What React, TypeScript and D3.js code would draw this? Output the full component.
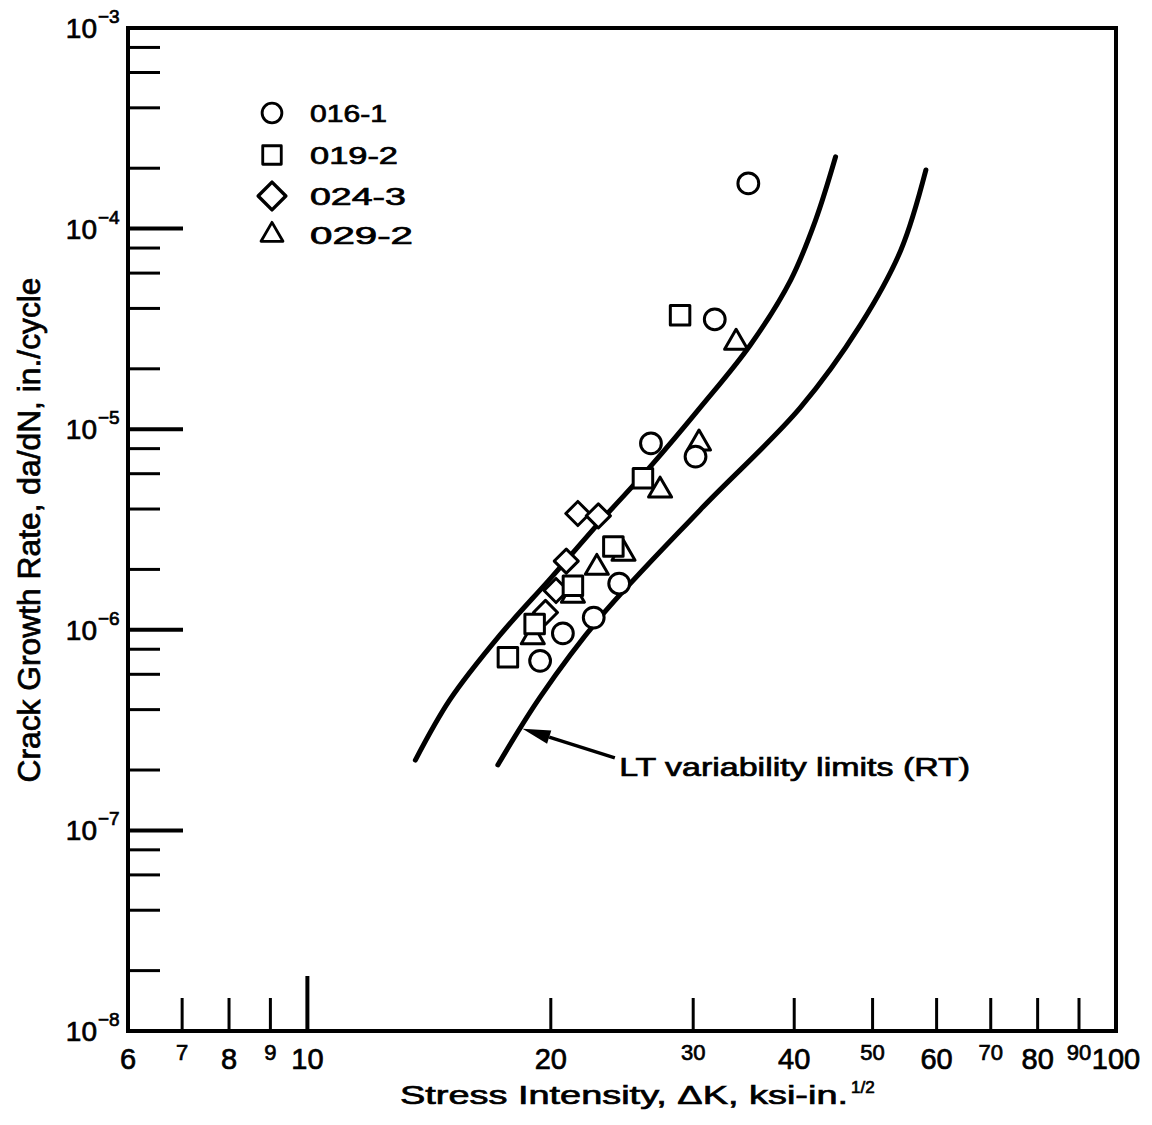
import React from 'react';
import * as d3 from 'd3';

const W = 1152;
const H = 1125;

// axes
const xDomain = [6, 100];
const yDomain = [1e-8, 1e-3];
const xMajorTicks = [10];
const xMinorTicks = [7, 8, 9, 20, 30, 40, 50, 60, 70, 80, 90];
const xBigLabels = [6, 8, 10, 20, 40, 60, 80, 100];
const xSmallLabels = [7, 9, 30, 50, 70, 90];
const yExponents = [-8, -7, -6, -5, -4, -3];
const yMinorMultipliers = [2, 4, 6, 8];

// specimens (delta K ksi-in^1/2, da/dN in/cycle)
const specimens = ['016-1', '019-2', '024-3', '029-2'];
const s016_1 = [[35.1, 1.68e-4], [31.9, 3.53e-5], [26.6, 8.5e-6], [30.2, 7.3e-6], [24.3, 1.7e-6], [22.6, 1.15e-6], [20.7, 9.6e-7], [19.4, 7.0e-7]];
const s019_2 = [[28.9, 3.7e-5], [26.0, 5.7e-6], [23.9, 2.6e-6], [21.3, 1.66e-6], [19.1, 1.07e-6], [17.7, 7.3e-7]];
const s024_3 = [[21.6, 3.8e-6], [22.9, 3.7e-6], [20.9, 2.2e-6], [20.3, 1.57e-6], [19.7, 1.22e-6]];
const s029_2 = [[33.9, 2.7e-5], [30.5, 8.5e-6], [27.3, 4.95e-6], [24.6, 2.4e-6], [22.8, 2.04e-6], [21.3, 1.48e-6], [19.0, 9.2e-7]];

// LT variability limits (RT)
const upperLimit = [[13.6, 2.24e-7], [15.0, 4.47e-7], [17.3, 9.4e-7], [20.0, 1.81e-6], [23.0, 3.45e-6], [26.6, 6.56e-6], [30.6, 1.28e-5], [35.3, 2.63e-5], [39.6, 5.54e-5], [42.5, 1.10e-4], [45.0, 2.28e-4]];
const lowerLimit = [[17.2, 2.12e-7], [19.4, 4.62e-7], [23.0, 1.15e-6], [30.6, 3.96e-6], [40.7, 1.28e-5], [48.3, 3.31e-5], [54.2, 7.82e-5], [58.2, 1.96e-4]];

// annotation (data coords)
const arrowTip = [18.45, 3.21e-7];
const arrowTail = [24.0, 2.3e-7];
const noteAt = [24.3, 1.86e-7];
const noteText = 'LT variability limits (RT)';

const font = '"Liberation Sans", Arial, sans-serif';

const x = d3.scaleLog().domain(xDomain).range([128, 1116]);
const y = d3.scaleLog().domain(yDomain).range([1031, 28]);

const line = d3.line<number[]>()
  .x(d => x(d[0]))
  .y(d => y(d[1]))
  .curve(d3.curveCatmullRom.alpha(0.5));

const circlePath = d3.symbol(d3.symbolCircle, 340)();
const squarePath = d3.symbol(d3.symbolSquare, 380)();
const diamondPath = d3.symbol(d3.symbolSquare, 290)();
const trianglePath = d3.symbol(d3.symbolTriangle, 230)();

const Marker = ({ kind, tx, ty, scale = 1 }) => {
  const common = { fill: '#fff', stroke: '#000', strokeWidth: 3, strokeLinejoin: 'round' as const };
  if (kind === 0) return <path d={circlePath} transform={`translate(${tx},${ty}) scale(${scale})`} {...common} />;
  if (kind === 1) return <path d={squarePath} transform={`translate(${tx},${ty}) scale(${scale})`} {...common} />;
  if (kind === 2) return <path d={diamondPath} transform={`translate(${tx},${ty}) rotate(45) scale(${scale})`} {...common} />;
  return <path d={trianglePath} transform={`translate(${tx},${ty}) scale(${scale})`} {...common} />;
};

const legendWidths = [77, 88, 96, 103];
const ink = { stroke: '#000', strokeWidth: 0.7 };

export default function App() {
  const yMinor: number[] = [];
  yExponents.slice(0, -1).forEach(e => yMinorMultipliers.forEach(m => yMinor.push(m * Math.pow(10, e))));

  const tip = [x(arrowTip[0]), y(arrowTip[1])];
  const tail = [x(arrowTail[0]), y(arrowTail[1])];
  const ang = Math.atan2(tail[1] - tip[1], tail[0] - tip[0]);
  const hl = 28, hw = 7;
  const bx = tip[0] + hl * Math.cos(ang), by = tip[1] + hl * Math.sin(ang);
  const head = [
    [tip[0], tip[1]],
    [bx + hw * Math.sin(ang), by - hw * Math.cos(ang)],
    [bx - hw * Math.sin(ang), by + hw * Math.cos(ang)],
  ];

  // draw order: triangles, diamonds, circles, squares
  const layers = [[3, s029_2], [2, s024_3], [0, s016_1], [1, s019_2]] as [number, number[][]][];

  return (
    <svg width={W} height={H} style={{ position: 'absolute', left: 0, top: 0, background: '#fff' }} fontFamily={font}>
      <rect width={W} height={H} fill="#fff" />

      {/* y ticks */}
      {yExponents.slice(0, -1).map(e => (
        <line key={'ym' + e} x1={128} x2={183} y1={y(Math.pow(10, e))} y2={y(Math.pow(10, e))} stroke="#000" strokeWidth={4} />
      ))}
      {yMinor.map((v, i) => (
        <line key={'yn' + i} x1={128} x2={160} y1={y(v)} y2={y(v)} stroke="#000" strokeWidth={3} />
      ))}
      {/* x ticks */}
      {xMajorTicks.map(v => (
        <line key={'xm' + v} x1={x(v)} x2={x(v)} y1={1031} y2={976} stroke="#000" strokeWidth={4} />
      ))}
      {xMinorTicks.map(v => (
        <line key={'xn' + v} x1={x(v)} x2={x(v)} y1={1031} y2={998} stroke="#000" strokeWidth={3} />
      ))}

      {/* frame */}
      <rect x={128} y={28} width={988} height={1003} fill="none" stroke="#000" strokeWidth={4} />

      {/* y labels */}
      {yExponents.map(e => (
        <g key={'yl' + e} {...ink}>
          <text x={97} y={y(Math.pow(10, e)) + 10} fontSize={28} textAnchor="end">10</text>
          <text x={98} y={y(Math.pow(10, e)) - 5} fontSize={19}>{'\u2212' + Math.abs(e)}</text>
        </g>
      ))}
      {/* x labels */}
      {xBigLabels.map(v => (
        <text key={'xb' + v} x={x(v)} y={1069} fontSize={29} textAnchor="middle" {...ink}>{v}</text>
      ))}
      {xSmallLabels.map(v => (
        <text key={'xs' + v} x={x(v)} y={1060} fontSize={22} textAnchor="middle" {...ink}>{v}</text>
      ))}

      {/* axis titles */}
      <text transform="translate(40,530) rotate(-90)" fontSize={31} textAnchor="middle" textLength={505} lengthAdjust="spacingAndGlyphs" {...ink}>
        Crack Growth Rate, da/dN, in./cycle
      </text>
      <text x={400} y={1104} fontSize={26} textLength={448} lengthAdjust="spacingAndGlyphs" {...ink}>
        Stress Intensity, ΔK, ksi-in.
      </text>
      <text x={851} y={1093} fontSize={17} {...ink}>1/2</text>

      {/* limit curves */}
      <path d={line(upperLimit) || ''} fill="none" stroke="#000" strokeWidth={5} strokeLinecap="round" />
      <path d={line(lowerLimit) || ''} fill="none" stroke="#000" strokeWidth={5} strokeLinecap="round" />

      {/* annotation */}
      <line x1={tail[0]} y1={tail[1]} x2={bx} y2={by} stroke="#000" strokeWidth={3.5} />
      <polygon points={head.map(p => p.join(',')).join(' ')} fill="#000" />
      <text x={x(noteAt[0])} y={y(noteAt[1])} fontSize={25} textLength={351} lengthAdjust="spacingAndGlyphs" {...ink}>{noteText}</text>

      {/* data */}
      {layers.map(([kind, pts]) => pts.map((p, i) => (
        <Marker key={kind + '-' + i} kind={kind} tx={x(p[0])} ty={y(p[1])} />
      )))}

      {/* legend */}
      {specimens.map((s, i) => {
        const cy = [113, 155, 196, 235][i];
        return (
          <g key={s}>
            <Marker kind={i} tx={272} ty={cy} scale={i === 2 ? 1.15 : 0.95} />
            <text x={310} y={cy + 9} fontSize={24} textLength={legendWidths[i]} lengthAdjust="spacingAndGlyphs" {...ink}>{s}</text>
          </g>
        );
      })}
    </svg>
  );
}
